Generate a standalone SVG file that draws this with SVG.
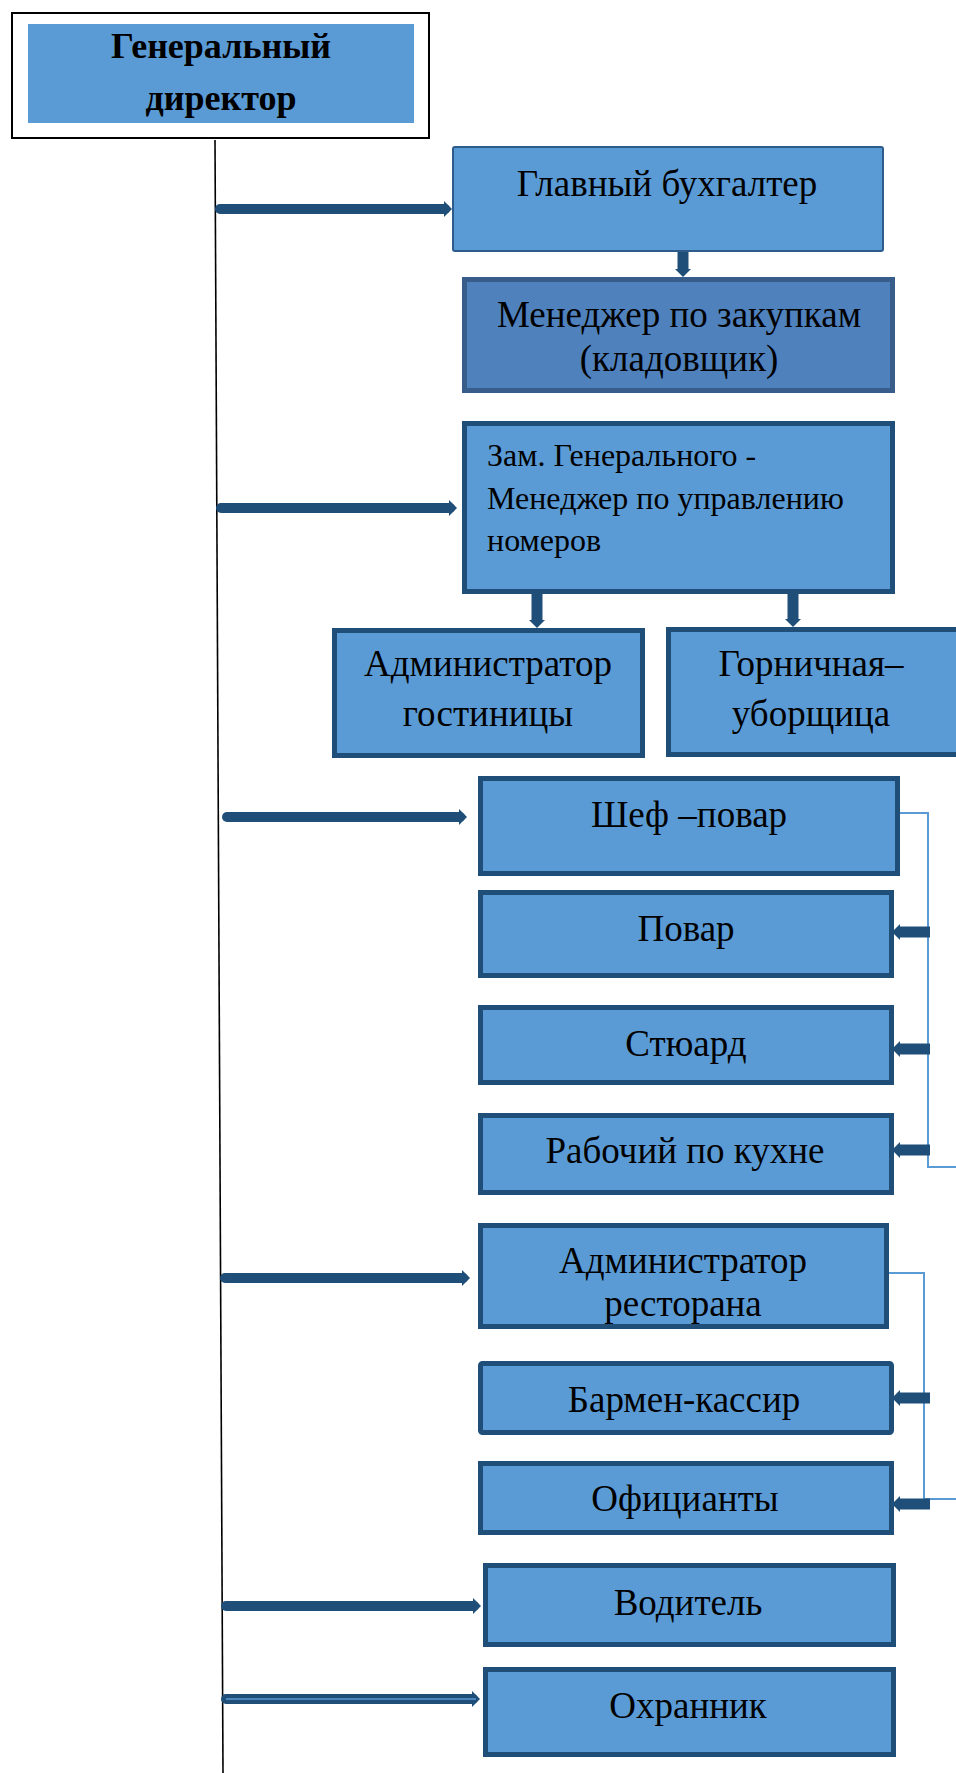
<svg xmlns="http://www.w3.org/2000/svg" width="956" height="1773" viewBox="0 0 956 1773">
<style>
.t{font-family:"Liberation Serif","Times New Roman",serif;font-size:37px;fill:#000;text-anchor:middle}
.tl{font-family:"Liberation Serif","Times New Roman",serif;font-size:32px;fill:#000}
.tb{font-family:"Liberation Serif","Times New Roman",serif;font-size:36px;font-weight:bold;fill:#000;text-anchor:middle}
.box{fill:#5B9BD5;stroke:#1F4E79;stroke-width:5}
.thin{fill:none;stroke:#5B9BD5;stroke-width:2}
.arr{fill:none;stroke:#1F4E79;stroke-width:10;stroke-linecap:round}
.arb{fill:none;stroke:#1F4E79;stroke-width:11;stroke-linecap:butt}
</style>
<defs>
<marker id="ah" markerUnits="userSpaceOnUse" viewBox="0 0 8 16" markerWidth="8" markerHeight="16" refX="1" refY="8" orient="auto">
<path d="M0,0 L8,8 L0,16 Z" fill="#1F4E79"/>
</marker>
</defs>

<g id="connectors">
<line x1="215" y1="140" x2="223" y2="1773" stroke="#000" stroke-width="1.6"/>
<line class="arr" x1="220" y1="209" x2="445" y2="209" marker-end="url(#ah)"/>
<line class="arr" x1="221" y1="508" x2="450" y2="508" marker-end="url(#ah)"/>
<line class="arr" x1="227" y1="817" x2="460" y2="817" marker-end="url(#ah)"/>
<line class="arr" x1="225" y1="1278" x2="463" y2="1278" marker-end="url(#ah)"/>
<line class="arr" x1="226" y1="1606" x2="474" y2="1606" marker-end="url(#ah)"/>
<line class="arr" x1="226" y1="1699" x2="473" y2="1699" stroke-width="12" marker-end="url(#ah)"/>
<line x1="226" y1="1699" x2="476" y2="1699" stroke="#5B9BD5" stroke-width="1.5"/>
<line class="arb" x1="683" y1="251" x2="683" y2="270" marker-end="url(#ah)"/>
<line class="arb" x1="537" y1="592" x2="537" y2="621" marker-end="url(#ah)"/>
<line class="arb" x1="793" y1="592" x2="793" y2="620" marker-end="url(#ah)"/>
<polyline class="thin" points="892,813 928,813 928,1167 956,1167"/>
<line class="arb" x1="930" y1="932" x2="899" y2="932" marker-end="url(#ah)"/>
<line class="arb" x1="930" y1="1049" x2="899" y2="1049" marker-end="url(#ah)"/>
<line class="arb" x1="930" y1="1150" x2="899" y2="1150" marker-end="url(#ah)"/>
<polyline class="thin" points="884,1273 924,1273 924,1499 956,1499"/>
<line class="arb" x1="930" y1="1398" x2="899" y2="1398" marker-end="url(#ah)"/>
<line class="arb" x1="930" y1="1504" x2="899" y2="1504" marker-end="url(#ah)"/>
</g>

<g id="general-director">
<rect x="12" y="13" width="417" height="125" fill="#fff" stroke="#000" stroke-width="2"/>
<rect x="28" y="24" width="386" height="99" fill="#5B9BD5"/>
<text class="tb" x="221" y="58">Генеральный</text>
<text class="tb" x="221" y="110">директор</text>
</g>

<g id="chief-accountant">
<rect x="453" y="147" width="430" height="104" rx="2" fill="#5B9BD5" stroke="#2E5C8A" stroke-width="2"/>
<text class="t" x="667" y="196">Главный бухгалтер</text>
</g>

<g id="purchasing-manager">
<rect x="464.5" y="279.5" width="428" height="111" fill="#4F81BD" stroke="#385D8A" stroke-width="5"/>
<text class="t" x="679" y="327">Менеджер по закупкам</text>
<text class="t" x="679" y="371">(кладовщик)</text>
</g>

<g id="deputy-director">
<rect class="box" x="464.5" y="423.5" width="428" height="168"/>
<text class="tl" x="487" y="466">Зам. Генерального -</text>
<text class="tl" x="487" y="509">Менеджер по управлению</text>
<text class="tl" x="487" y="551">номеров</text>
</g>

<g id="hotel-admin">
<rect class="box" x="334.5" y="630.5" width="308" height="125"/>
<text class="t" x="488" y="676">Администратор</text>
<text class="t" x="488" y="726">гостиницы</text>
</g>

<g id="maid">
<rect class="box" x="668.5" y="629.5" width="300" height="125"/>
<text class="t" x="811" y="676">Горничная–</text>
<text class="t" x="811" y="726">уборщица</text>
</g>

<g id="chef">
<rect class="box" x="480.5" y="778.5" width="417" height="95"/>
<text class="t" x="689" y="827">Шеф –повар</text>
</g>

<g id="cook">
<rect class="box" x="480.5" y="892.5" width="411" height="83"/>
<text class="t" x="686" y="941">Повар</text>
</g>

<g id="steward">
<rect class="box" x="480.5" y="1007.5" width="411" height="75"/>
<text class="t" x="686" y="1056">Стюард</text>
</g>

<g id="kitchen-worker">
<rect class="box" x="480.5" y="1115.5" width="411" height="77"/>
<text class="t" x="685" y="1163">Рабочий по кухне</text>
</g>

<g id="restaurant-admin">
<rect class="box" x="480.5" y="1225.5" width="406" height="101"/>
<text class="t" x="683" y="1273">Администратор</text>
<text class="t" x="683" y="1316">ресторана</text>
</g>

<g id="bartender">
<rect class="box" x="480.5" y="1363.5" width="411" height="69" rx="2"/>
<text class="t" x="684" y="1412">Бармен-кассир</text>
</g>

<g id="waiters">
<rect class="box" x="480.5" y="1463.5" width="411" height="69"/>
<text class="t" x="685" y="1511">Официанты</text>
</g>

<g id="driver">
<rect class="box" x="485.5" y="1565.5" width="408" height="79"/>
<text class="t" x="688" y="1615">Водитель</text>
</g>

<g id="guard">
<rect class="box" x="485.5" y="1669.5" width="408" height="85"/>
<text class="t" x="688" y="1718">Охранник</text>
</g>
</svg>
